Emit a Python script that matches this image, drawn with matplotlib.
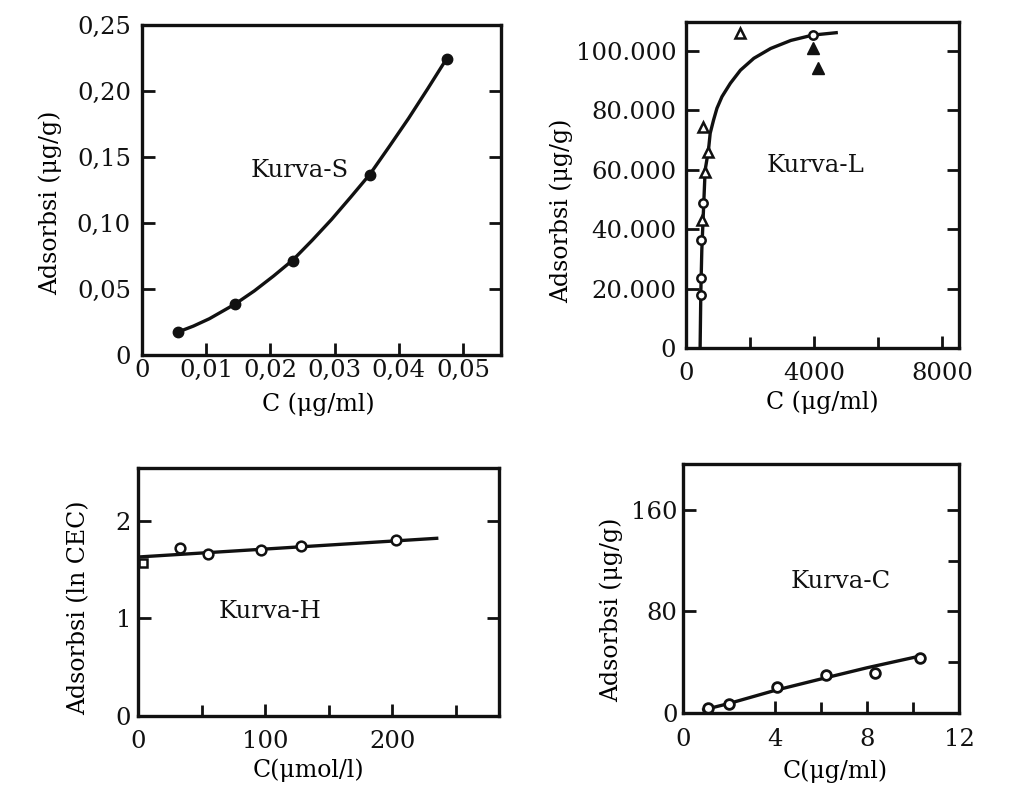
import matplotlib
matplotlib.use("Agg")
import matplotlib.pyplot as plt
from matplotlib.ticker import FixedLocator, FuncFormatter

plt.rcParams["font.family"] = ["DejaVu Serif"]

# ---- Kurva-S ----
s_x = [0.0056, 0.0145, 0.0235, 0.0355, 0.0475]
s_y = [0.0174, 0.0386, 0.071, 0.136, 0.224]
s_curve_x = [0.0056, 0.008, 0.0105, 0.0145, 0.0175, 0.0205, 0.0235, 0.0265,
             0.0295, 0.0325, 0.0355, 0.0385, 0.0415, 0.0445, 0.0475]
s_curve_y = [0.0174, 0.0219, 0.0275, 0.0386, 0.0486, 0.0599, 0.0720, 0.0869,
             0.1026, 0.1196, 0.1370, 0.1579, 0.1792, 0.2018, 0.2250]

# ---- Kurva-L ----
l_open_circle_x = [463, 463, 463, 526, 3959]
l_open_circle_y = [17800, 23400, 36300, 48800, 105200]
l_open_tri_x = [494, 598, 702, 545, 1701]
l_open_tri_y = [43200, 59300, 66000, 74200, 105800]
l_filled_tri_x = [3959, 4117]
l_filled_tri_y = [100700, 94000]
l_curve_x = [441, 463, 494, 598, 702, 756, 860, 967, 1124, 1386, 1701, 2120,
             2646, 3276, 3959, 4693]
l_curve_y = [0, 18500, 32900, 59800, 66550, 72200, 76600, 80600, 84500, 89000,
             93400, 97400, 100700, 103400, 105200, 106000]

# ---- Kurva-H ----
h_square_x = [4]
h_square_y = [1.57]
h_circle_x = [33, 55, 97, 128, 203]
h_circle_y = [1.72, 1.66, 1.70, 1.745, 1.805]
h_line_x = [2, 235]
h_line_y = [1.63, 1.82]

# ---- Kurva-C ----
c_x = [1.1, 2.0, 4.1, 6.2, 8.35, 10.3]
c_y = [4.2, 6.8, 20.4, 29.9, 31.5, 43.0]
c_line_x = [0.9, 2.0, 4.0, 6.0, 8.0, 10.3]
c_line_y = [2.5, 7.5, 17.8, 26.8, 35.6, 44.8]

INK = "#111111"
LW = 2.4
FS = 17.5
LFS = 17


def comma_fmt(v, pos):
    return "0" if abs(v) < 1e-12 else f"{v:.2f}".replace(".", ",")


def dot_thousands(v, pos):
    return f"{int(round(v)):,}".replace(",", ".")


def style(ax, xpad, ypad):
    for sp in ax.spines.values():
        sp.set_linewidth(LW)
        sp.set_color(INK)
    ax.tick_params(which="both", direction="in", top=False, right=True,
                   width=2.0, color=INK, labelsize=FS, labelcolor=INK)
    ax.tick_params(which="major", length=9)
    ax.tick_params(which="minor", length=8)
    ax.tick_params(axis="x", pad=xpad)
    ax.tick_params(axis="y", pad=ypad)


fig = plt.figure(figsize=(10.13, 8.01), dpi=100)

# Kurva-S
ax1 = fig.add_axes([142 / 1013, 1 - 355 / 801, 359 / 1013, 330 / 801])
ax1.plot(s_curve_x, s_curve_y, color=INK, lw=LW, solid_joinstyle="round")
ax1.plot(s_x, s_y, "o", color=INK, ms=7.5)
ax1.set_xlim(0, 0.0559)
ax1.set_ylim(0, 0.25)
ax1.xaxis.set_major_locator(FixedLocator([0, 0.01, 0.02, 0.03, 0.04, 0.05]))
ax1.yaxis.set_major_locator(FixedLocator([0, 0.05, 0.10, 0.15, 0.20, 0.25]))
ax1.xaxis.set_major_formatter(FuncFormatter(comma_fmt))
ax1.yaxis.set_major_formatter(FuncFormatter(comma_fmt))
style(ax1, 3, 8)
ax1.set_xlabel("C (μg/ml)", fontsize=LFS)
ax1.set_ylabel("Adsorbsi (μg/g)", fontsize=LFS)
ax1.xaxis.set_label_coords(0.49, -0.115)
ax1.yaxis.set_label_coords(-0.223, 0.46)
ax1.text(0.44, 0.56, "Kurva-S", transform=ax1.transAxes, fontsize=FS,
         ha="center", va="center", color=INK)

# Kurva-L
ax2 = fig.add_axes([686 / 1013, 1 - 348 / 801, 273 / 1013, 326 / 801])
ax2.plot(l_curve_x, l_curve_y, color=INK, lw=LW, solid_joinstyle="round")
ax2.plot(l_open_circle_x, l_open_circle_y, "o", mfc="white", mec=INK, mew=1.8, ms=6)
ax2.plot(l_open_tri_x, l_open_tri_y, "^", mfc="white", mec=INK, mew=1.8, ms=7.5)
ax2.plot(l_filled_tri_x, l_filled_tri_y, "^", color=INK, ms=8.5)
ax2.set_xlim(0, 8530)
ax2.set_ylim(0, 109600)
ax2.xaxis.set_major_locator(FixedLocator([0, 4000, 8000]))
ax2.xaxis.set_minor_locator(FixedLocator([2000, 6000]))
ax2.yaxis.set_major_locator(FixedLocator([0, 20000, 40000, 60000, 80000, 100000]))
ax2.yaxis.set_major_formatter(FuncFormatter(dot_thousands))
style(ax2, 10, 7)
ax2.set_xlabel("C (μg/ml)", fontsize=LFS)
ax2.set_ylabel("Adsorbsi (μg/g)", fontsize=LFS)
ax2.xaxis.set_label_coords(0.498, -0.13)
ax2.yaxis.set_label_coords(-0.414, 0.42)
ax2.text(0.476, 0.56, "Kurva-L", transform=ax2.transAxes, fontsize=FS,
         ha="center", va="center", color=INK)

# Kurva-H
ax3 = fig.add_axes([138 / 1013, 1 - 716 / 801, 361 / 1013, 248 / 801])
ax3.plot(h_line_x, h_line_y, color=INK, lw=LW)
ax3.plot(h_square_x, h_square_y, "s", mfc="white", mec=INK, mew=1.8, ms=6)
ax3.plot(h_circle_x, h_circle_y, "o", mfc="white", mec=INK, mew=1.8, ms=7)
ax3.set_xlim(0, 284)
ax3.set_ylim(0, 2.54)
ax3.xaxis.set_major_locator(FixedLocator([0, 100, 200]))
ax3.xaxis.set_minor_locator(FixedLocator([50, 150, 250]))
ax3.yaxis.set_major_locator(FixedLocator([0, 1, 2]))
style(ax3, 10, 5)
ax3.set_xlabel("C(μmol/l)", fontsize=LFS)
ax3.set_ylabel("Adsorbsi (ln CEC)", fontsize=LFS)
ax3.xaxis.set_label_coords(0.471, -0.17)
ax3.yaxis.set_label_coords(-0.133, 0.435)
ax3.text(0.365, 0.42, "Kurva-H", transform=ax3.transAxes, fontsize=FS,
         ha="center", va="center", color=INK)

# Kurva-C
ax4 = fig.add_axes([683 / 1013, 1 - 713 / 801, 276 / 1013, 249 / 801])
ax4.plot(c_line_x, c_line_y, color=INK, lw=LW, solid_joinstyle="round")
ax4.plot(c_x, c_y, "o", mfc="white", mec=INK, mew=2.0, ms=7)
ax4.set_xlim(0, 12)
ax4.set_ylim(0, 196)
ax4.xaxis.set_major_locator(FixedLocator([0, 4, 8, 12]))
ax4.xaxis.set_minor_locator(FixedLocator([6, 10]))
ax4.yaxis.set_major_locator(FixedLocator([0, 80, 160]))
ax4.yaxis.set_minor_locator(FixedLocator([40, 120]))
style(ax4, 11, 4)
ax4.tick_params(axis="y", which="minor", left=False, right=True)
ax4.set_xlabel("C(μg/ml)", fontsize=LFS)
ax4.set_ylabel("Adsorbsi (μg/g)", fontsize=LFS)
ax4.xaxis.set_label_coords(0.551, -0.185)
ax4.yaxis.set_label_coords(-0.217, 0.414)
ax4.text(0.57, 0.53, "Kurva-C", transform=ax4.transAxes, fontsize=FS,
         ha="center", va="center", color=INK)

fig.savefig("out.png", dpi=100, facecolor="white")
